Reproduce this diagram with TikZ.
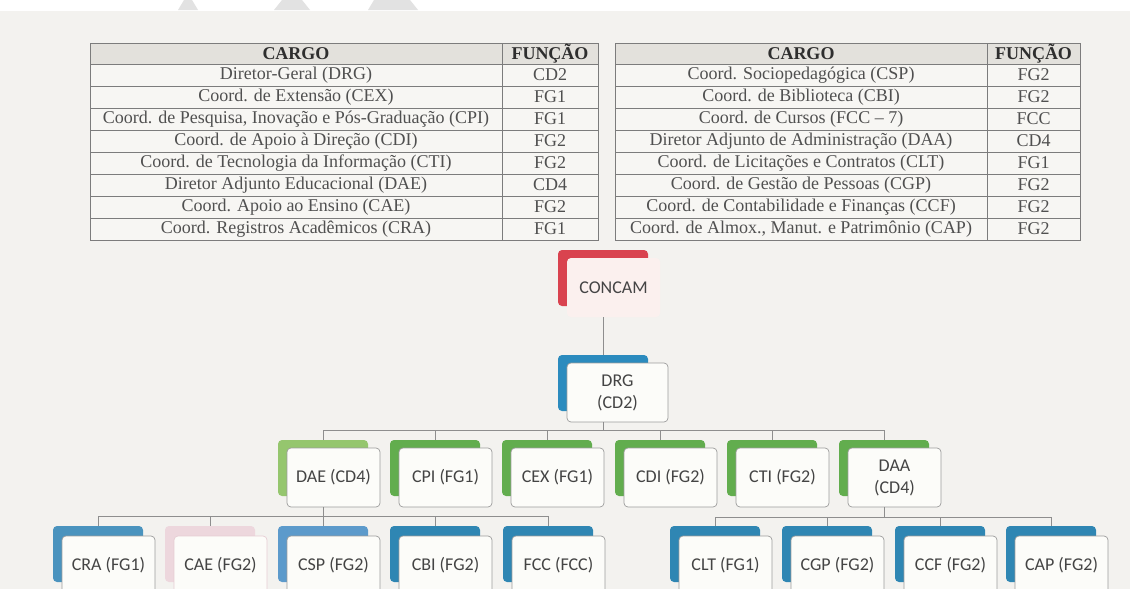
\documentclass[tikz,border=0pt]{standalone}
\usepackage{fontspec}
\setmainfont{Liberation Serif}
\newfontfamily\chartfont{Carlito}
\usetikzlibrary{calc}
\definecolor{pagebg}{HTML}{F3F2EF}
\definecolor{markgray}{HTML}{E2E2E2}
\definecolor{tablebg}{HTML}{F7F6F3}
\definecolor{headbg}{HTML}{E3E1DC}
\definecolor{tableline}{HTML}{7C7C7C}
\definecolor{tabletext}{HTML}{505050}
\definecolor{headtext}{HTML}{2E2E2E}
\definecolor{concamred}{HTML}{D9434F}
\definecolor{concampink}{HTML}{FBF0EE}
\definecolor{drgblue}{HTML}{2B8BBE}
\definecolor{leafblue}{HTML}{2F86B3}
\definecolor{crablue}{HTML}{4A93BE}
\definecolor{cspblue}{HTML}{5C9ACB}
\definecolor{caepink}{HTML}{EDD7DD}
\definecolor{caeline}{HTML}{E6CDD4}
\definecolor{daegreen}{HTML}{95C66E}
\definecolor{midgreen}{HTML}{62AD4E}
\definecolor{boxfill}{HTML}{FCFCF9}
\definecolor{boxline}{HTML}{9C9C9C}
\definecolor{charttext}{HTML}{444444}
\definecolor{connline}{HTML}{8E8E8E}
\tikzset{
	backbox/.style={rectangle, rounded corners=4pt, minimum width=90pt, minimum height=56pt, inner sep=0pt},
	frontbox/.style={rectangle, rounded corners=4pt, draw=boxline, fill=boxfill, line width=0.7pt, minimum width=93pt, minimum height=59pt, inner sep=1pt, align=center, text=charttext, font=\chartfont\fontsize{18}{22}\selectfont},
	conn/.style={draw=connline, line width=0.8pt},
	gridline/.style={draw=tableline, line width=0.8pt},
	cell/.style={inner sep=0pt, text=tabletext, font=\fontsize{18}{20}\selectfont},
	headcell/.style={inner sep=0pt, text=headtext, font=\bfseries\fontsize{18}{20}\selectfont}
}
\begin{document}
\begin{tikzpicture}[x=1pt,y=-1pt]
	\useasboundingbox (0,0) rectangle (1130,589);
	\fill[white] (0,0) rectangle (1130,589);
	\fill[pagebg] (0,11) rectangle (1130,589);
	\fill[markgray] (184,0) -- (192,0) -- (198,10) -- (178,10) -- cycle;
	\fill[markgray] (282,0) -- (302,0) -- (310,10) -- (274,10) -- cycle;
	\fill[markgray] (374,0) -- (410,0) -- (418,10) -- (368,10) -- cycle;
	\fill[headbg] (90,43) rectangle (598,64);
	\fill[tablebg] (90,64) rectangle (598,240);
	\draw[gridline] (90,43) rectangle (598,240);
	\draw[gridline] (502,43) -- (502,240);
	\draw[gridline] (90,64) -- (598,64) (90,86) -- (598,86) (90,108) -- (598,108) (90,130) -- (598,130) (90,152) -- (598,152) (90,174) -- (598,174) (90,196) -- (598,196) (90,218) -- (598,218);
	\node[headcell] (cargoA) at (296,53.5) {CARGO};
	\node[headcell] (funcaoA) at (550,53.5) {FUNÇÃO};
	\node[cell] (cargoA1) at (296,75) {Diretor-Geral (DRG)};
	\node[cell] (funcaoA1) at (550,75) {CD2};
	\node[cell] (cargoA2) at (296,97) {Coord. de Extensão (CEX)};
	\node[cell] (funcaoA2) at (550,97) {FG1};
	\node[cell] (cargoA3) at (296,119) {Coord. de Pesquisa, Inovação e Pós-Graduação (CPI)};
	\node[cell] (funcaoA3) at (550,119) {FG1};
	\node[cell] (cargoA4) at (296,141) {Coord. de Apoio à Direção (CDI)};
	\node[cell] (funcaoA4) at (550,141) {FG2};
	\node[cell] (cargoA5) at (296,163) {Coord. de Tecnologia da Informação (CTI)};
	\node[cell] (funcaoA5) at (550,163) {FG2};
	\node[cell] (cargoA6) at (296,185) {Diretor Adjunto Educacional (DAE)};
	\node[cell] (funcaoA6) at (550,185) {CD4};
	\node[cell] (cargoA7) at (296,207) {Coord. Apoio ao Ensino (CAE)};
	\node[cell] (funcaoA7) at (550,207) {FG2};
	\node[cell] (cargoA8) at (296,229) {Coord. Registros Acadêmicos (CRA)};
	\node[cell] (funcaoA8) at (550,229) {FG1};
	\fill[headbg] (615,43) rectangle (1080,64);
	\fill[tablebg] (615,64) rectangle (1080,240);
	\draw[gridline] (615,43) rectangle (1080,240);
	\draw[gridline] (987,43) -- (987,240);
	\draw[gridline] (615,64) -- (1080,64) (615,86) -- (1080,86) (615,108) -- (1080,108) (615,130) -- (1080,130) (615,152) -- (1080,152) (615,174) -- (1080,174) (615,196) -- (1080,196) (615,218) -- (1080,218);
	\node[headcell] (cargoB) at (801,53.5) {CARGO};
	\node[headcell] (funcaoB) at (1033.5,53.5) {FUNÇÃO};
	\node[cell] (cargoB1) at (801,75) {Coord. Sociopedagógica (CSP)};
	\node[cell] (funcaoB1) at (1033.5,75) {FG2};
	\node[cell] (cargoB2) at (801,97) {Coord. de Biblioteca (CBI)};
	\node[cell] (funcaoB2) at (1033.5,97) {FG2};
	\node[cell] (cargoB3) at (801,119) {Coord. de Cursos (FCC – 7)};
	\node[cell] (funcaoB3) at (1033.5,119) {FCC};
	\node[cell] (cargoB4) at (801,141) {Diretor Adjunto de Administração (DAA)};
	\node[cell] (funcaoB4) at (1033.5,141) {CD4};
	\node[cell] (cargoB5) at (801,163) {Coord. de Licitações e Contratos (CLT)};
	\node[cell] (funcaoB5) at (1033.5,163) {FG1};
	\node[cell] (cargoB6) at (801,185) {Coord. de Gestão de Pessoas (CGP)};
	\node[cell] (funcaoB6) at (1033.5,185) {FG2};
	\node[cell] (cargoB7) at (801,207) {Coord. de Contabilidade e Finanças (CCF)};
	\node[cell] (funcaoB7) at (1033.5,207) {FG2};
	\node[cell] (cargoB8) at (801,229) {Coord. de Almox., Manut. e Patrimônio (CAP)};
	\node[cell] (funcaoB8) at (1033.5,229) {FG2};
	\node[backbox, fill=concamred] (concamB) at (603,278) {};
	\node[frontbox, fill=concampink, draw=none] (concam) at (613.5,287.5) {CONCAM};
	\node[backbox, fill=drgblue] (drgB) at (603,383) {};
	\node[frontbox, minimum width=101pt] (drg) at (617.5,392.5) {DRG\\(CD2)};
	\node[backbox, fill=daegreen] (daeB) at (323,468) {};
	\node[frontbox] (dae) at (333.5,477.5) {DAE (CD4)};
	\node[backbox, fill=midgreen] (cpiB) at (435,468) {};
	\node[frontbox] (cpi) at (445.5,477.5) {CPI (FG1)};
	\node[backbox, fill=midgreen] (cexB) at (547,468) {};
	\node[frontbox] (cex) at (557.5,477.5) {CEX (FG1)};
	\node[backbox, fill=midgreen] (cdiB) at (660,468) {};
	\node[frontbox] (cdi) at (670.5,477.5) {CDI (FG2)};
	\node[backbox, fill=midgreen] (ctiB) at (772,468) {};
	\node[frontbox] (cti) at (782.5,477.5) {CTI (FG2)};
	\node[backbox, fill=midgreen] (daaB) at (884,468) {};
	\node[frontbox] (daa) at (894.5,477.5) {DAA\\(CD4)};
	\node[backbox, fill=crablue] (craB) at (98,554) {};
	\node[frontbox] (cra) at (108.5,565.5) {CRA (FG1)};
	\node[backbox, fill=caepink] (caeB) at (210,554) {};
	\node[frontbox, draw=caeline] (cae) at (220.5,565.5) {CAE (FG2)};
	\node[backbox, fill=cspblue] (cspB) at (323,554) {};
	\node[frontbox] (csp) at (333.5,565.5) {CSP (FG2)};
	\node[backbox, fill=leafblue] (cbiB) at (435,554) {};
	\node[frontbox] (cbi) at (445.5,565.5) {CBI (FG2)};
	\node[backbox, fill=leafblue] (fccB) at (548,554) {};
	\node[frontbox] (fcc) at (558.5,565.5) {FCC (FCC)};
	\node[backbox, fill=leafblue] (cltB) at (715,554) {};
	\node[frontbox] (clt) at (725.5,565.5) {CLT (FG1)};
	\node[backbox, fill=leafblue] (cgpB) at (827,554) {};
	\node[frontbox] (cgp) at (837.5,565.5) {CGP (FG2)};
	\node[backbox, fill=leafblue] (ccfB) at (940,554) {};
	\node[frontbox] (ccf) at (950.5,565.5) {CCF (FG2)};
	\node[backbox, fill=leafblue] (capB) at (1051,554) {};
	\node[frontbox] (cap) at (1061.5,565.5) {CAP (FG2)};
	\coordinate (busA) at (603,430);
	\coordinate (busB) at (323,516);
	\coordinate (busC) at (884,517);
	\draw[conn] (concamB |- concam.south) -- (drgB.north);
	\draw[conn] (drgB |- drg.south) -- (busA);
	\draw[conn] (daeB.north) |- (daaB.north |- busA) -- (daaB.north);
	\draw[conn] (cpiB.north) -- (cpiB.north |- busA);
	\draw[conn] (cexB.north) -- (cexB.north |- busA);
	\draw[conn] (cdiB.north) -- (cdiB.north |- busA);
	\draw[conn] (ctiB.north) -- (ctiB.north |- busA);
	\draw[conn] (daeB |- dae.south) -- (busB);
	\draw[conn] (craB.north) |- (fccB.north |- busB) -- (fccB.north);
	\draw[conn] (caeB.north) -- (caeB.north |- busB);
	\draw[conn] (cspB.north) -- (cspB.north |- busB);
	\draw[conn] (cbiB.north) -- (cbiB.north |- busB);
	\draw[conn] (daaB |- daa.south) -- (busC);
	\draw[conn] (cltB.north) |- (capB.north |- busC) -- (capB.north);
	\draw[conn] (cgpB.north) -- (cgpB.north |- busC);
	\draw[conn] (ccfB.north) -- (ccfB.north |- busC);
\end{tikzpicture}
\end{document}
